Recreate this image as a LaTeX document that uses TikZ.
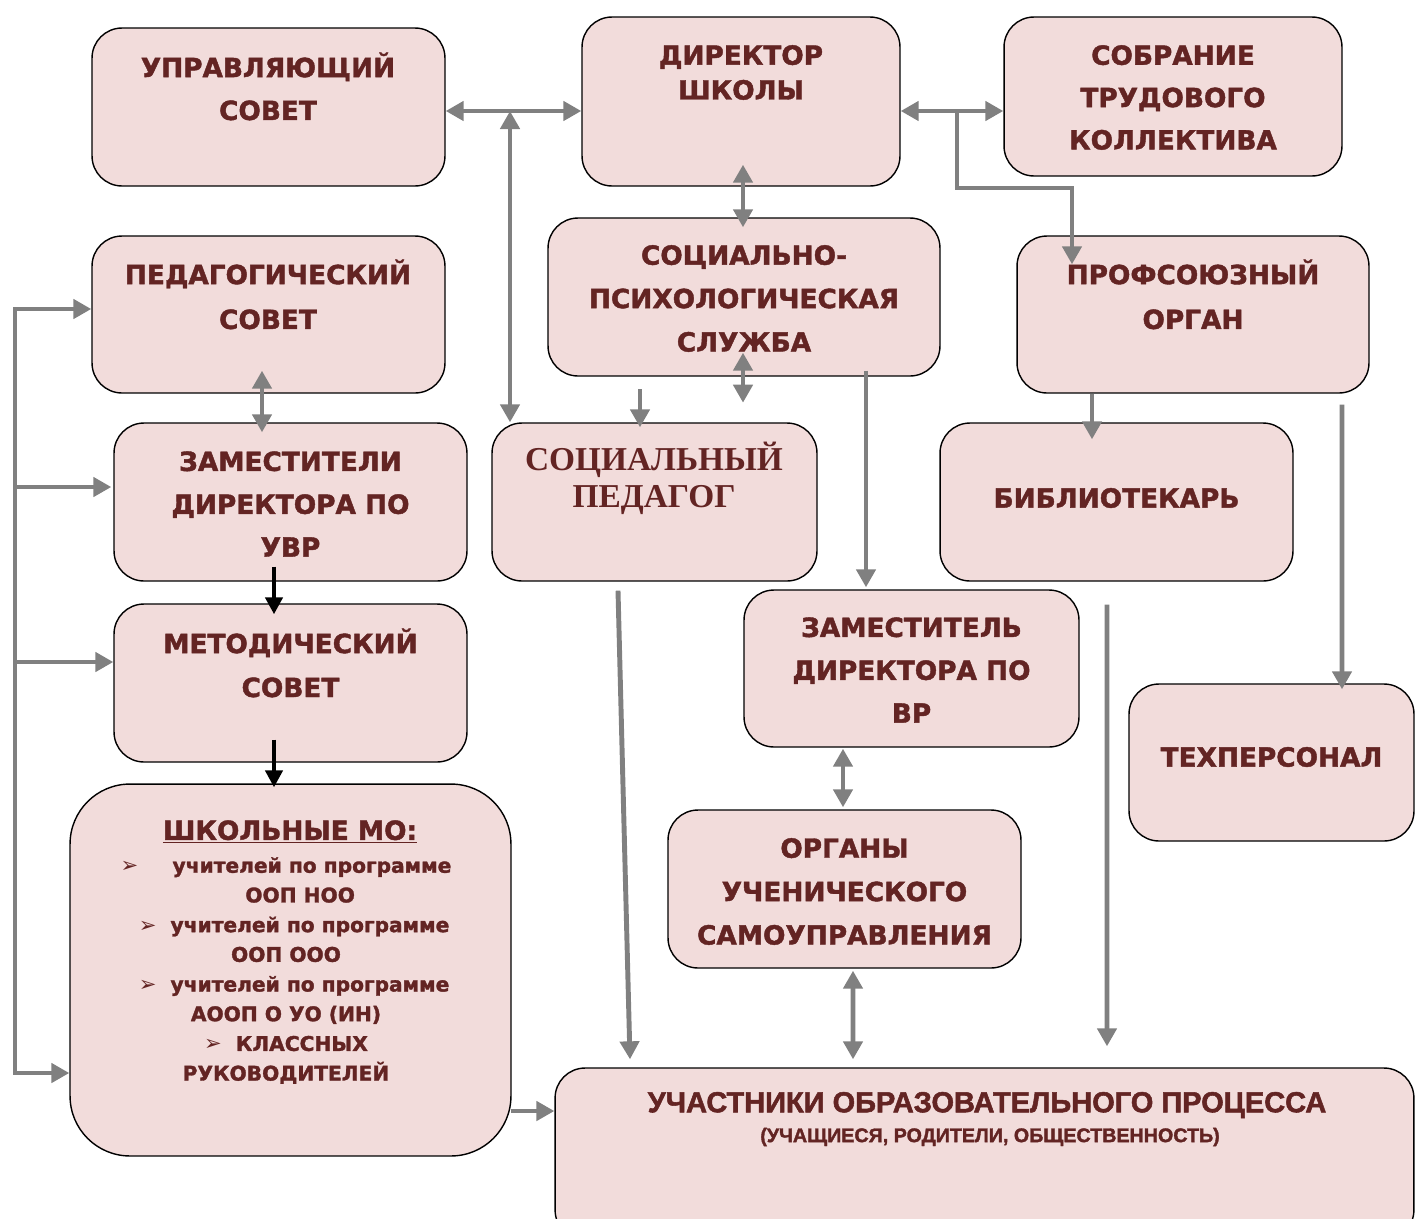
\documentclass[tikz,border=0pt]{standalone}
\usepackage{fontspec}
\setmainfont{DejaVu Sans}[BoldFeatures={FakeBold=1.6}]
\newfontfamily\serfont{Liberation Serif}
\newfontfamily\narfont{Liberation Sans}[BoldFeatures={FakeBold=1.8}]
\newfontfamily\symfont{DejaVu Sans}
\usetikzlibrary{arrows.meta,positioning,calc}

\definecolor{boxfill}{HTML}{F2DCDB}
\definecolor{boxtext}{HTML}{632423}
\definecolor{arrgray}{HTML}{808080}

\begin{document}
\begin{tikzpicture}[
    x=0.02cm, y=0.02cm,
    % Define styles
    box/.style={draw=black, line width=0.8pt, rounded corners=0.6cm, fill=boxfill, inner sep=0},
    txt/.style={text=boxtext, align=center, inner sep=0, font=\bfseries\fontsize{15}{24.4}\selectfont},
    garr/.style={draw=arrgray, line width=2.8pt, -{Triangle[length=0.36cm,width=0.38cm]}},
    darr/.style={draw=arrgray, line width=2.8pt, {Triangle[length=0.36cm,width=0.38cm]}-{Triangle[length=0.36cm,width=0.38cm]}},
    barr/.style={draw=black, line width=2.6pt, -{Triangle[length=0.34cm,width=0.34cm]}}
]
\useasboundingbox (0,-1218) rectangle (1416,0);
\clip (0,-1218) rectangle (1416,0);

% Boxes
\node[box, minimum width=7.06cm, minimum height=3.16cm] (upr) at (268.5,-107) {};
\node[box, minimum width=6.36cm, minimum height=3.38cm] (dir) at (741,-101.5) {};
\node[box, minimum width=6.76cm, minimum height=3.18cm] (sobr) at (1173,-96.5) {};
\node[box, minimum width=7.06cm, minimum height=3.14cm] (ped) at (268.5,-314.5) {};
\node[box, minimum width=7.84cm, minimum height=3.16cm] (sps) at (744,-297) {};
\node[box, minimum width=7.04cm, minimum height=3.14cm] (prof) at (1193,-314.5) {};
\node[box, minimum width=7.06cm, minimum height=3.16cm] (uvr) at (290.5,-502) {};
\node[box, minimum width=6.5cm, minimum height=3.16cm] (socped) at (654.5,-502) {};
\node[box, minimum width=7.06cm, minimum height=3.16cm] (bib) at (1116.5,-502) {};
\node[box, minimum width=7.06cm, minimum height=3.16cm] (met) at (290.5,-683) {};
\node[box, minimum width=6.7cm, minimum height=3.14cm] (vr) at (911.5,-668.5) {};
\node[box, minimum width=5.7cm, minimum height=3.14cm] (tech) at (1271.5,-762.5) {};
\node[box, rounded corners=1.2cm, minimum width=8.82cm, minimum height=7.44cm] (mo) at (290.5,-970) {};
\node[box, minimum width=7.06cm, minimum height=3.16cm] (org) at (844.5,-889) {};
\node[box, minimum width=17.18cm, minimum height=3.44cm] (uch) at (984.5,-1154) {};

% Texts
\node[txt] (upr-t) at (268,-86.5) {УПРАВЛЯЮЩИЙ\\СОВЕТ};
\node[txt, font=\bfseries\fontsize{15}{19.8}\selectfont] (dir-t) at (741,-72.5) {ДИРЕКТОР\\ШКОЛЫ};
\node[txt, font=\bfseries\fontsize{15}{24.1}\selectfont] (sobr-t) at (1173,-97.5) {СОБРАНИЕ\\ТРУДОВОГО\\КОЛЛЕКТИВА};
\node[txt, font=\bfseries\fontsize{15}{25.5}\selectfont] (ped-t) at (268,-294.5) {ПЕДАГОГИЧЕСКИЙ\\СОВЕТ};
\node[txt, font=\bfseries\fontsize{15}{24.7}\selectfont] (sps-t) at (744,-298.5) {СОЦИАЛЬНО-\\ПСИХОЛОГИЧЕСКАЯ\\СЛУЖБА};
\node[txt, font=\bfseries\fontsize{15}{25.5}\selectfont] (prof-t) at (1193,-294.5) {ПРОФСОЮЗНЫЙ\\ОРГАН};
\node[txt] (uvr-t) at (290.5,-504) {ЗАМЕСТИТЕЛИ\\ДИРЕКТОРА ПО\\УВР};
\node[txt, font=\serfont\bfseries\fontsize{19}{21}\selectfont] (socped-t) at (654,-478.5) {СОЦИАЛЬНЫЙ\\ПЕДАГОГ};
\node[txt] (bib-t) at (1116.5,-498) {БИБЛИОТЕКАРЬ};
\node[txt, font=\bfseries\fontsize{15}{25}\selectfont] (met-t) at (290.5,-663) {МЕТОДИЧЕСКИЙ\\СОВЕТ};
\node[txt] (vr-t) at (911.5,-670) {ЗАМЕСТИТЕЛЬ\\ДИРЕКТОРА ПО\\ВР};
\node[txt] (tech-t) at (1271.5,-757) {ТЕХПЕРСОНАЛ};
\node[txt, font=\bfseries\fontsize{15}{24.7}\selectfont] (org-t) at (844.5,-891.5) {ОРГАНЫ\\УЧЕНИЧЕСКОГО\\САМОУПРАВЛЕНИЯ};
\node[txt] (mo-t) at (290,-832) {\underline{ШКОЛЬНЫЕ МО:}};
\node[txt, font=\bfseries\fontsize{11.5}{16.9}\selectfont] (mo-l) at (286,-970.5) {%
    {\symfont\large ➢}\quad\ \ учителей по программе\\
    \hspace*{1.4em}ООП НОО\\
    \hspace*{0.8em}{\symfont\large ➢}\ \ учителей по программе\\
    ООП ООО\\
    \hspace*{0.8em}{\symfont\large ➢}\ \ учителей по программе\\
    АООП О УО (ИН)\\
    {\symfont\large ➢}\ \ КЛАССНЫХ\\
    РУКОВОДИТЕЛЕЙ};
\node[txt, font=\narfont\bfseries\fontsize{16.5}{18}\selectfont] (uch-t) at (987,-1105) {УЧАСТНИКИ ОБРАЗОВАТЕЛЬНОГО ПРОЦЕССА};
\node[txt, font=\narfont\bfseries\fontsize{11.2}{13}\selectfont] (uch-s) at (990,-1137) {(УЧАЩИЕСЯ, РОДИТЕЛИ, ОБЩЕСТВЕННОСТЬ)};

% Top row connections
\coordinate (jl) at (510,-111);
\coordinate (jr) at (957,-111);
\coordinate (kr) at (1072,-188);
\draw[darr] (upr.east |- jl) -- (dir.west |- jl);
\draw[darr] (jl) -- (jl |- socped.north);
\draw[darr] (dir.east |- jr) -- (sobr.west |- jr);
\draw[garr] (jr) -- (jr |- kr) -- (kr) -- ($(prof.north -| kr)+(0,-29)$);
\draw[darr] ($(dir.south)+(2,22)$) -- ($(sps.north)+(-1,-10)$);

% Middle connections
\draw[darr] ($(sps.south)+(-1,24)$) -- ($(sps.south)+(-1,-26)$);
\draw[garr] ($(socped.north)+(-14.5,33)$) -- ($(socped.north)+(-14.5,-5)$);
\draw[garr] ($(sps.south)+(122,6)$) -- ($(vr.north)+(-45.5,2)$);
\draw[darr] ($(ped.south)+(-6.5,23)$) -- ($(uvr.north)+(-28.5,-10)$);
\draw[barr] ($(uvr.south)+(-16.5,15)$) -- ($(met.north)+(-16.5,-11)$);
\draw[barr] ($(met.south)+(-16.5,23)$) -- ($(mo.north)+(-16.5,-4)$);
\draw[garr] ($(prof.south)+(-101,0)$) -- ($(bib.north)+(-24.5,-17)$);
\draw[garr] ($(prof.south)+(149,-11)$) -- ($(tech.north)+(70.5,-6)$);

% Left bus
\coordinate (bt) at (15,-309);
\coordinate (b2) at (15,-487);
\coordinate (b3) at (15,-662);
\coordinate (bb) at (15,-1073);
\draw[garr] (bb) -- (bt) -- (bt -| ped.west);
\draw[garr] (bt) -- (bb) -- (bb -| mo.west);
\draw[garr] (b2) -- ($(b2 -| uvr.west)+(-2,0)$);
\draw[garr] (b3) -- (b3 -| met.west);

% Lower connections
\coordinate (mo-out) at (511,-1111);
\draw[garr] ($(bib.south)+(-9.5,-23)$) -- ($(uch.north)+(122.5,21)$);
\draw[garr] ($(socped.south)+(-36.5,-9)$) -- ($(uch.north)+(-354.5,8)$);
\draw[darr] ($(vr.south)+(-68.5,-1)$) -- ($(org.north)+(-1.5,2)$);
\draw[darr] ($(org.south)+(8.5,-2)$) -- ($(uch.north)+(-131.5,8)$);
\draw[garr] (mo-out) -- (mo-out -| uch.west);

\end{tikzpicture}
\end{document}
